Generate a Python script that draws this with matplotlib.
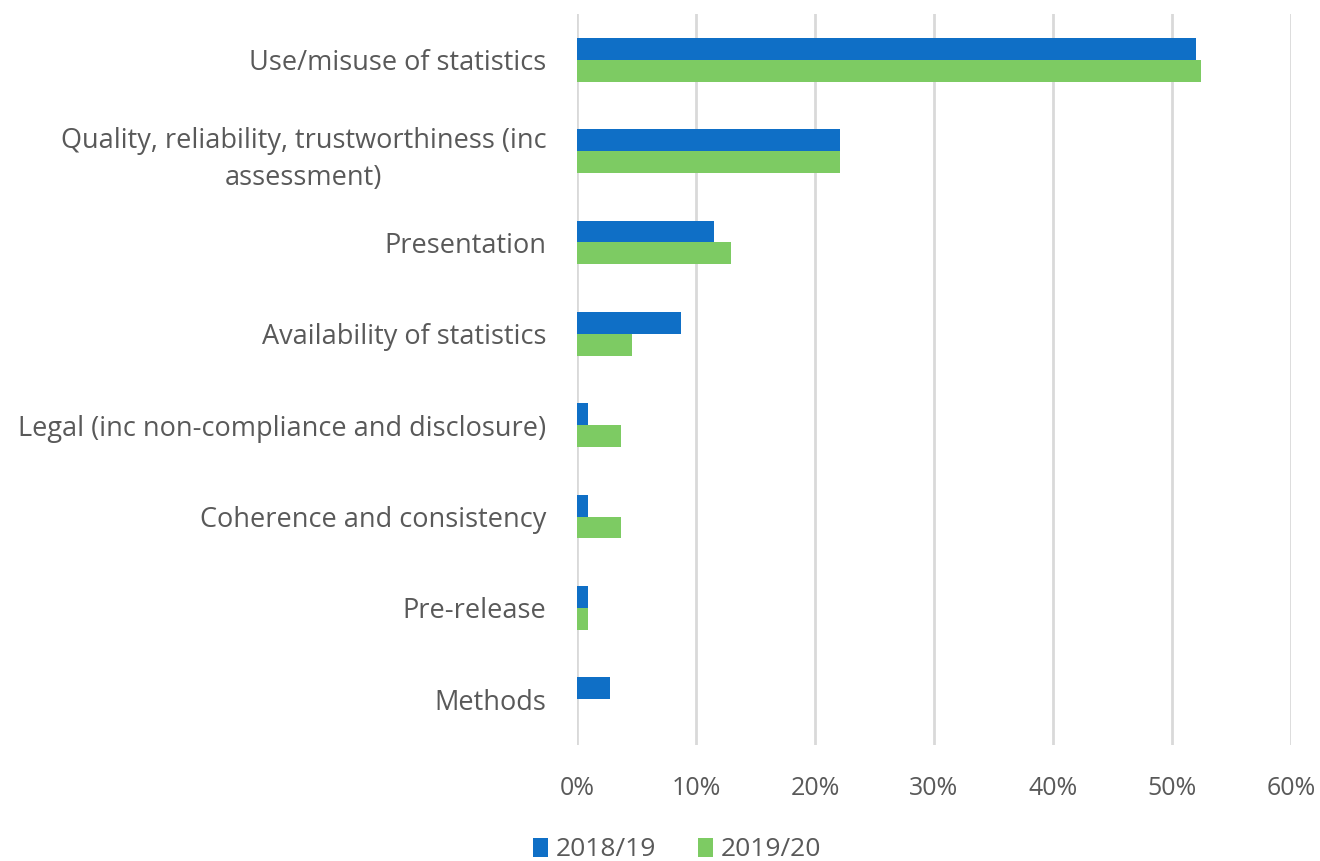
import numpy as np
import matplotlib.pyplot as plt
from matplotlib.ticker import FuncFormatter

# === Data (share of cases by topic) ===
categories = [
    "Use/misuse of statistics",
    "Quality, reliability, trustworthiness (inc\nassessment)",
    "Presentation",
    "Availability of statistics",
    "Legal (inc non-compliance and disclosure)",
    "Coherence and consistency",
    "Pre-release",
    "Methods",
]
share_2018 = [52.0, 22.1, 11.5, 8.7, 0.9, 0.9, 0.9, 2.8]
share_2019 = [52.4, 22.1, 12.9, 4.6, 3.7, 3.7, 0.9, 0.0]
series_labels = ["2018/19", "2019/20"]

blue = "#0f6fc6"
green = "#7dcb63"
text_grey = "#595959"
grid_grey = "#d9d9d9"

plt.rcParams["font.family"] = ["Open Sans", "DejaVu Sans"]

fig = plt.figure(figsize=(13.2, 8.61), dpi=100)
ax = fig.add_axes([577 / 1320, 1 - 745 / 861, 714 / 1320, 731 / 861])

y = np.arange(len(categories))
h = 0.24
b1 = ax.barh(y - h / 2, share_2018, height=h, color=blue, label=series_labels[0], zorder=3)
b2 = ax.barh(y + h / 2, share_2019, height=h, color=green, label=series_labels[1], zorder=3)

ax.set_ylim(len(categories) - 0.5, -0.5)
ax.set_xlim(0, 60)
ax.set_xticks(np.arange(0, 61, 10))
ax.xaxis.set_major_formatter(FuncFormatter(lambda v, _: f"{v:.0f}%"))
ax.set_yticks(y)
ax.set_yticklabels(categories, multialignment="center", linespacing=1.45)

ax.grid(axis="x", color=grid_grey, linewidth=2, zorder=0)
for s in ax.spines.values():
    s.set_visible(False)
ax.tick_params(axis="both", length=0, labelcolor=text_grey)
ax.tick_params(axis="x", labelsize=18, pad=22)
ax.tick_params(axis="y", labelsize=19.5, pad=22)

fig.legend(handles=[b1, b2], labels=series_labels, loc="center",
           bbox_to_anchor=(677 / 1320, 1 - 850 / 861), ncol=2, frameon=False,
           fontsize=19, labelcolor=text_grey, handlelength=0.55, handleheight=0.75,
           handletextpad=0.3, columnspacing=1.6)

fig.savefig("out.png", dpi=100, facecolor="white")
